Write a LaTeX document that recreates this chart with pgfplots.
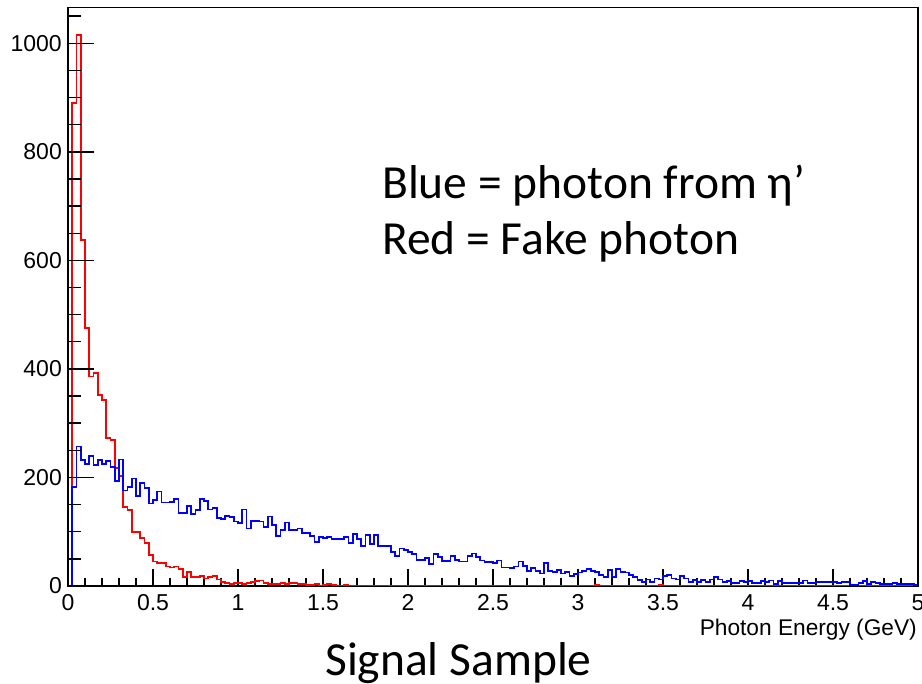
\documentclass[border=0pt]{standalone}
\usepackage{fontspec}
\setmainfont{Liberation Sans}
\newfontfamily\calibri{Carlito}
\usepackage{pgfplots}
\pgfplotsset{compat=1.18}
\begin{document}
\begin{tikzpicture}
\pgfplotsset{
  common/.style={
    at={(68bp,98bp)}, anchor=south west, scale only axis,
    width=850bp, height=578.5bp,
    xmin=0, xmax=5, ymin=0, ymax=1066,
    /pgf/number format/assume math mode=true,
    /pgf/number format/1000 sep={},
    scaled ticks=false,
    tick align=inside,
    axis line style={line width=1.8bp, black},
    every tick/.style={black, line width=1.4bp},
    ticklabel style={font=\fontsize{23bp}{23bp}\selectfont, inner sep=0pt},
  }
}
\begin{axis}[common,
  xtick={0,0.5,1,1.5,2,2.5,3,3.5,4,4.5,5},
  xticklabels={0,0.5,1,1.5,2,2.5,3,3.5,4,4.5,5},
  minor xtick={0,0.1,...,5.01},
  xtick pos=bottom,
  ytick=\empty,
  major tick length=17bp, minor tick length=8.5bp,
  xticklabel style={anchor=north, yshift=-8bp},
]
\addplot[red, line width=1.8bp, const plot, mark=none, line join=miter] coordinates {
(0,0)(0.025,890)(0.05,1015)(0.075,638)(0.1,475)(0.125,386)(0.15,392)(0.175,352)(0.2,343)(0.225,272)
(0.25,269)(0.275,217)(0.3,203)(0.325,145)(0.35,140)(0.375,100)(0.4,100)(0.425,88)(0.45,79)(0.475,57)
(0.5,45)(0.525,42)(0.55,43)(0.575,36)(0.6,34)(0.625,36)(0.65,31)(0.675,17)(0.7,26)(0.725,17)
(0.75,16)(0.775,18)(0.8,14)(0.825,16)(0.85,18)(0.875,12)(0.9,8)(0.925,6)(0.95,4)(0.975,6)
(1.0,5)(1.025,4)(1.05,6)(1.075,8)(1.1,9)(1.125,10)(1.15,5)(1.175,4)(1.2,3)(1.225,4)
(1.25,5)(1.275,3)(1.3,5)(1.325,6)(1.35,4)(1.375,3)(1.4,2)(1.425,2)(1.45,3)(1.475,1)
(1.5,2)(1.525,3)(1.55,2)(1.575,1)(1.6,0)(1.625,2)(1.65,1)(1.675,1)(1.7,0)(1.725,1)
(1.75,1)(1.775,0)(1.8,0)(1.825,1)(1.85,1)(1.875,0)(1.9,1)(1.925,0)(1.95,0)(1.975,0)
(2.0,1)(2.025,1)(2.05,1)(2.075,0)(2.6,1)(2.625,0)(3.1,2)(3.125,0)(3.475,2)(3.5,0)(5,0)
};
\addplot[blue, line width=1.8bp, const plot, mark=none, line join=miter] coordinates {
(0,0)(0.025,183)(0.05,257)(0.075,232)(0.1,225)(0.125,240)(0.15,223)(0.175,232)(0.2,225)(0.225,230)
(0.25,219)(0.275,194)(0.3,233)(0.325,176)(0.35,183)(0.375,198)(0.4,166)(0.425,190)(0.45,180)(0.475,152)
(0.5,158)(0.525,174)(0.55,154)(0.575,154)(0.6,155)(0.625,160)(0.65,135)(0.675,135)(0.7,147)(0.725,133)
(0.75,140)(0.775,160)(0.8,157)(0.825,141)(0.85,143)(0.875,125)(0.9,123)(0.925,129)(0.95,127)(0.975,119)
(1.0,116)(1.025,141)(1.05,106)(1.075,120)(1.1,120)(1.125,119)(1.15,108)(1.175,128)(1.2,112)(1.225,92)
(1.25,103)(1.275,117)(1.3,103)(1.325,103)(1.35,106)(1.375,98)(1.4,98)(1.425,92)(1.45,81)(1.475,90)
(1.5,88)(1.525,91)(1.55,86)(1.575,86)(1.6,87)(1.625,90)(1.65,79)(1.675,96)(1.7,86)(1.725,74)
(1.75,94)(1.775,77)(1.8,94)(1.825,74)(1.85,74)(1.875,74)(1.9,62)(1.925,55)(1.95,69)(1.975,66)
(2.0,62)(2.025,59)(2.05,48)(2.075,48)(2.1,51)(2.125,41)(2.15,59)(2.175,54)(2.2,46)(2.225,46)
(2.25,55)(2.275,48)(2.3,45)(2.325,45)(2.35,55)(2.375,60)(2.4,54)(2.425,47)(2.45,44)(2.475,44)
(2.5,42)(2.525,47)(2.55,34)(2.575,34)(2.6,33)(2.625,36)(2.65,45)(2.675,37)(2.7,28)(2.725,33)
(2.75,28)(2.775,23)(2.8,42)(2.825,28)(2.85,26)(2.875,29)(2.9,23)(2.925,26)(2.95,19)(2.975,22)
(3.0,25)(3.025,28)(3.05,32)(3.075,28)(3.1,26)(3.125,20)(3.15,17)(3.175,29)(3.2,17)(3.225,32)
(3.25,26)(3.275,25)(3.3,20)(3.325,17)(3.35,11)(3.375,8)(3.4,12)(3.425,8)(3.45,14)(3.475,12)
(3.5,18)(3.525,20)(3.55,14)(3.575,12)(3.6,18)(3.625,14)(3.65,8)(3.675,11)(3.7,8)(3.725,11)
(3.75,8)(3.775,12)(3.8,17)(3.825,12)(3.85,8)(3.875,9)(3.9,6)(3.925,6)(3.95,9)(3.975,8)
(4.0,9)(4.025,5)(4.05,5)(4.075,9)(4.1,7)(4.125,10)(4.15,4)(4.175,9)(4.2,5)(4.225,6)
(4.25,5)(4.275,6)(4.3,6)(4.325,10)(4.35,6)(4.375,6)(4.4,7)(4.425,7)(4.45,7)(4.475,7)
(4.5,7)(4.525,6)(4.55,7)(4.575,7)(4.6,2)(4.625,2)(4.65,5)(4.675,9)(4.7,4)(4.725,7)
(4.75,5)(4.775,4)(4.8,4)(4.825,4)(4.85,5)(4.875,3)(4.9,3)(4.925,3)(4.95,4)(4.975,2)
(5,2)
};
\end{axis}
\begin{axis}[common, hide x axis,
  ytick={0,200,400,600,800,1000},
  yticklabels={0,200,400,600,800,1000},
  minor ytick={0,50,...,1050},
  ytick pos=left,
  major tick length=25.5bp, minor tick length=12.75bp,
  yticklabel style={anchor=east, xshift=-6bp},
]
\end{axis}
\node[anchor=base west, inner sep=0pt, font=\calibri\fontsize{47.5bp}{50bp}\selectfont] at (382bp,485bp) {Blue = photon from η’};
\node[anchor=base west, inner sep=0pt, font=\calibri\fontsize{47.5bp}{50bp}\selectfont] at (382bp,429bp) {Red = Fake photon};
\node[anchor=base west, inner sep=0pt, font=\calibri\fontsize{47.5bp}{50bp}\selectfont] at (325bp,9bp) {Signal Sample};
\node[anchor=base east, inner sep=0pt, font=\fontsize{22.7bp}{24bp}\selectfont] at (917bp,48bp) {Photon Energy (GeV)};
\pgfresetboundingbox
\useasboundingbox (0,0) rectangle (922bp,684bp);
\end{tikzpicture}
\end{document}
